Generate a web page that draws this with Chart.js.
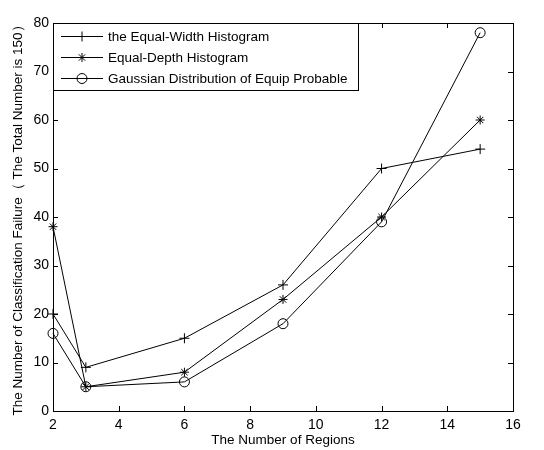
<!DOCTYPE html>
<html>
<head>
<meta charset="utf-8">
<script src="https://cdn.jsdelivr.net/npm/chart.js@4/dist/chart.umd.min.js"></script>
<style>
  html, body { margin: 0; padding: 0; background: #fff; }
  #wrap { width: 544px; height: 450px; }
</style>
</head>
<body>
<div id="wrap"><canvas id="chart" width="544" height="450"></canvas></div>
<script>
// data
const regions = [2, 3, 6, 9, 12, 15];
const equalWidth = [20, 9, 15, 26, 50, 54];
const equalDepth = [38, 5, 8, 23, 40, 60];
const gaussian = [16, 5, 6, 18, 39, 78];
const seriesNames = ['the Equal-Width Histogram', 'Equal-Depth Histogram', 'Gaussian Distribution of Equip Probable'];
const xTicks = [2, 4, 6, 8, 10, 12, 14, 16];
const yTicks = [0, 10, 20, 30, 40, 50, 60, 70, 80];

const FONT = 'Liberation Sans, Arial, sans-serif';

const toPoints = vals => vals.map((v, i) => ({ x: regions[i], y: v }));

const mkSet = (label, vals, style, r) => ({
  label: label,
  data: toPoints(vals),
  borderColor: '#000',
  borderWidth: 1,
  backgroundColor: 'transparent',
  pointStyle: style,
  pointRadius: r,
  pointBorderColor: '#000',
  pointBorderWidth: 1,
  pointBackgroundColor: 'transparent',
  tension: 0,
  clip: false
});

// box, inward ticks on all four sides, legend inside the plot
const frame = {
  id: 'frame',
  afterDraw(chart) {
    const { ctx, chartArea: a, scales } = chart;
    ctx.save();
    ctx.strokeStyle = '#000';
    ctx.lineWidth = 1;
    ctx.strokeRect(a.left + 0.5, a.top + 0.5, a.right - a.left, a.bottom - a.top);
    const t = 5;
    ctx.beginPath();
    xTicks.forEach(v => {
      const px = Math.round(scales.x.getPixelForValue(v)) + 0.5;
      ctx.moveTo(px, a.bottom); ctx.lineTo(px, a.bottom - t);
      ctx.moveTo(px, a.top); ctx.lineTo(px, a.top + t);
    });
    yTicks.forEach(v => {
      const py = Math.round(scales.y.getPixelForValue(v)) + 0.5;
      ctx.moveTo(a.left, py); ctx.lineTo(a.left + t, py);
      ctx.moveTo(a.right, py); ctx.lineTo(a.right - t, py);
    });
    ctx.stroke();

    // legend
    const lx = a.left, ly = a.top, lw = 305, lh = 67;
    ctx.fillStyle = '#fff';
    ctx.fillRect(lx + 1, ly + 1, lw, lh);
    ctx.strokeRect(lx + 0.5, ly + 0.5, lw, lh);
    ctx.textBaseline = 'middle';
    chart.data.datasets.forEach((ds, i) => {
      const y = ly + 13.5 + i * 21;
      ctx.beginPath();
      ctx.moveTo(lx + 8, y); ctx.lineTo(lx + 50, y);
      ctx.stroke();
      ctx.fillStyle = 'rgba(0,0,0,0)';
      Chart.helpers.drawPoint(ctx, {
        pointStyle: ds.pointStyle, radius: ds.pointRadius, borderWidth: 1
      }, lx + 29, y);
      ctx.fillStyle = '#000';
      ctx.font = '13.5px ' + FONT;
      ctx.fillText(seriesNames[i], lx + 55, y + 1);
    });
    ctx.restore();
  }
};

new Chart(document.getElementById('chart'), {
  type: 'line',
  data: {
    datasets: [
      mkSet(seriesNames[0], equalWidth, 'cross', 5),
      mkSet(seriesNames[1], equalDepth, 'star', 4.5),
      mkSet(seriesNames[2], gaussian, 'circle', 5)
    ]
  },
  options: {
    responsive: false,
    animation: false,
    layout: { padding: { top: 23, right: 31, left: 0, bottom: 0 } },
    scales: {
      x: {
        type: 'linear',
        min: 2, max: 16,
        afterFit: s => { s.height = 39; },
        afterBuildTicks: s => { s.ticks = xTicks.map(v => ({ value: v })); },
        grid: { display: false, drawTicks: false },
        border: { display: false },
        ticks: { color: '#000', font: { family: FONT, size: 14 }, padding: 6, maxRotation: 0 },
        title: { display: true, text: 'The Number of Regions', color: '#000',
                 font: { family: FONT, size: 13.5 }, padding: { top: 0, bottom: 2 } }
      },
      y: {
        min: 0, max: 80,
        afterFit: s => { s.width = 53; },
        afterBuildTicks: s => { s.ticks = yTicks.map(v => ({ value: v })); },
        grid: { display: false, drawTicks: false },
        border: { display: false },
        ticks: { color: '#000', font: { family: FONT, size: 14 }, padding: 4 },
        title: { display: true, text: 'The Number of Classification Failure（ The Total Number is 150）',
                 color: '#000', font: { family: FONT, size: 13.5 }, padding: { top: 10, bottom: 0 } }
      }
    },
    plugins: {
      legend: { display: false },
      tooltip: { enabled: false }
    }
  },
  plugins: [frame]
});
</script>
</body>
</html>
